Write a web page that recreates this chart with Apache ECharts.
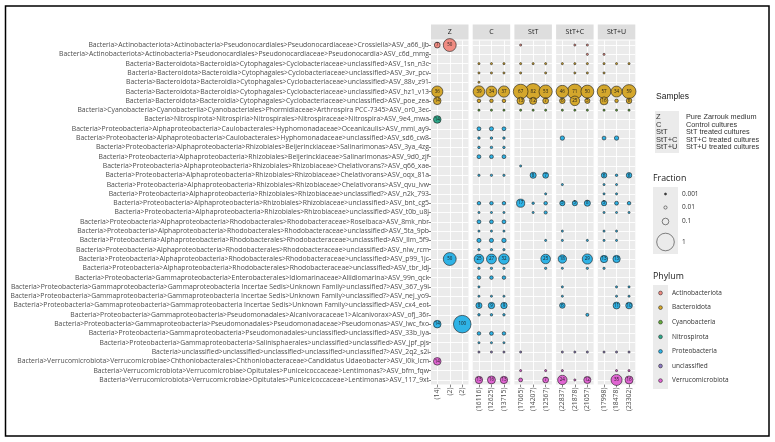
<!DOCTYPE html>
<html><head><meta charset="utf-8">
<script src="https://cdn.jsdelivr.net/npm/echarts@6/dist/echarts.min.js"></script>
<style>html,body{margin:0;padding:0;background:#fff}#c{width:775px;height:442px}</style>
</head><body><div id="c"></div>
<script>
// ---------- DATA ----------
const rowLabels = [
"Bacteria>Actinobacteriota>Actinobacteria>Pseudonocardiales>Pseudonocardiaceae>Crossiella>ASV_a66_ijb",
"Bacteria>Actinobacteriota>Actinobacteria>Pseudonocardiales>Pseudonocardiaceae>Pseudonocardia>ASV_c6d_mmg",
"Bacteria>Bacteroidota>Bacteroidia>Cytophagales>Cyclobacteriaceae>unclassified>ASV_1sn_n3c",
"Bacteria>Bacteroidota>Bacteroidia>Cytophagales>Cyclobacteriaceae>unclassified>ASV_3vr_pcv",
"Bacteria>Bacteroidota>Bacteroidia>Cytophagales>Cyclobacteriaceae>unclassified>ASV_88v_z91",
"Bacteria>Bacteroidota>Bacteroidia>Cytophagales>Cyclobacteriaceae>unclassified>ASV_hz1_v13",
"Bacteria>Bacteroidota>Bacteroidia>Cytophagales>Cyclobacteriaceae>unclassified>ASV_poe_zea",
"Bacteria>Cyanobacteria>Cyanobacteriia>Cyanobacteriales>Phormidiaceae>Arthrospira PCC-7345>ASV_or0_3ec",
"Bacteria>Nitrospirota>Nitrospiria>Nitrospirales>Nitrospiraceae>Nitrospira>ASV_9e4_mwa",
"Bacteria>Proteobacteria>Alphaproteobacteria>Caulobacterales>Hyphomonadaceae>Oceanicaulis>ASV_mmi_ay9",
"Bacteria>Proteobacteria>Alphaproteobacteria>Caulobacterales>Hyphomonadaceae>unclassified>ASV_sd6_cw8",
"Bacteria>Proteobacteria>Alphaproteobacteria>Rhizobiales>Beijerinckiaceae>Salinarimonas>ASV_3ya_4zg",
"Bacteria>Proteobacteria>Alphaproteobacteria>Rhizobiales>Beijerinckiaceae>Salinarimonas>ASV_9d0_zjf",
"Bacteria>Proteobacteria>Alphaproteobacteria>Rhizobiales>Rhizobiaceae>Chelativorans?>ASV_q66_xae",
"Bacteria>Proteobacteria>Alphaproteobacteria>Rhizobiales>Rhizobiaceae>Chelativorans>ASV_oqx_81a",
"Bacteria>Proteobacteria>Alphaproteobacteria>Rhizobiales>Rhizobiaceae>Chelativorans>ASV_qvu_ivw",
"Bacteria>Proteobacteria>Alphaproteobacteria>Rhizobiales>Rhizobiaceae>unclassified?>ASV_n2k_793",
"Bacteria>Proteobacteria>Alphaproteobacteria>Rhizobiales>Rhizobiaceae>unclassified>ASV_bnt_cg5",
"Bacteria>Proteobacteria>Alphaproteobacteria>Rhizobiales>Rhizobiaceae>unclassified>ASV_t0b_u8j",
"Bacteria>Proteobacteria>Alphaproteobacteria>Rhodobacterales>Rhodobacteraceae>Roseibaca>ASV_8mk_nbr",
"Bacteria>Proteobacteria>Alphaproteobacteria>Rhodobacterales>Rhodobacteraceae>unclassified>ASV_5ta_9pb",
"Bacteria>Proteobacteria>Alphaproteobacteria>Rhodobacterales>Rhodobacteraceae>unclassified>ASV_llm_5f9",
"Bacteria>Proteobacteria>Alphaproteobacteria>Rhodobacterales>Rhodobacteraceae>unclassified>ASV_nlw_rcm",
"Bacteria>Proteobacteria>Alphaproteobacteria>Rhodobacterales>Rhodobacteraceae>unclassified>ASV_p99_1jc",
"Bacteria>Proteobacteria>Alphaproteobacteria>Rhodobacterales>Rhodobacteraceae>unclassified>ASV_tbr_ldj",
"Bacteria>Proteobacteria>Gammaproteobacteria>Enterobacterales>Idiomarinaceae>Aliidiomarina>ASV_99n_qck",
"Bacteria>Proteobacteria>Gammaproteobacteria>Gammaproteobacteria Incertae Sedis>Unknown Family>unclassified?>ASV_367_y9l",
"Bacteria>Proteobacteria>Gammaproteobacteria>Gammaproteobacteria Incertae Sedis>Unknown Family>unclassified?>ASV_nej_yo9",
"Bacteria>Proteobacteria>Gammaproteobacteria>Gammaproteobacteria Incertae Sedis>Unknown Family>unclassified>ASV_cx4_eot",
"Bacteria>Proteobacteria>Gammaproteobacteria>Pseudomonadales>Alcanivoracaceae1>Alcanivorax>ASV_ofj_36r",
"Bacteria>Proteobacteria>Gammaproteobacteria>Pseudomonadales>Pseudomonadaceae>Pseudomonas>ASV_lwc_fxo",
"Bacteria>Proteobacteria>Gammaproteobacteria>Pseudomonadales>unclassified>unclassified>ASV_33b_iya",
"Bacteria>Proteobacteria>Gammaproteobacteria>Salinisphaerales>unclassified>unclassified>ASV_jpf_pjs",
"Bacteria>unclassified>unclassified>unclassified>unclassified>unclassified?>ASV_2q2_s2i",
"Bacteria>Verrucomicrobiota>Verrucomicrobiae>Chthoniobacterales>Chthoniobacteraceae>Candidatus Udaeobacter>ASV_l0k_lcm",
"Bacteria>Verrucomicrobiota>Verrucomicrobiae>Opitutales>Puniceicoccaceae>Lentimonas?>ASV_bfm_fqw",
"Bacteria>Verrucomicrobiota>Verrucomicrobiae>Opitutales>Puniceicoccaceae>Lentimonas>ASV_117_9xt"
];
const phylumNames = ["Actinobacteriota","Bacteroidota","Cyanobacteria","Nitrospirota","Proteobacteria","unclassified","Verrucomicrobiota"];
const phylumColors = ["#F08C82","#D4A72C","#67AE3E","#2EA98A","#2FB3E6","#8E7CC3","#E065D2"];
// phylum index of each row
const rowPhylum = [0,0,1,1,1,1,1,2,3,4,4,4,4,4,4,4,4,4,4,4,4,4,4,4,4,4,4,4,4,4,4,4,4,5,6,6,6];

const panelNames = ["Z","C","StT","StT+C","StT+U"];
const panelDescriptions = ["Pure Zarrouk medium","Control cultures","StT treated cultures","StT+C treated cultures","StT+U treated cultures"];
const sampleLabels = [
  ["(14)","(2)","(2)"],
  ["(16116)","(12625)","(13715)"],
  ["(17065)","(14207)","(12567)"],
  ["(22837)","(21878)","(21057)"],
  ["(17998)","(18478)","(23302)"]
];
const fractionBreaks = [0.001, 0.01, 0.1, 1];
const fractionLabels = ["0.001","0.01","0.1","1"];

// percent abundance per sample, one value per row (0 = absent)
const Z1  = [7,0,0,0,0,36,14,0,14,0, 0,0,0,0,0,0,0,0,0,0, 0,0,0,0,0,0,0,0,0,0, 14,0,0,0,14,0,0];
const Z2  = [50,0,0,0,0,0,0,0,0,0, 0,0,0,0,0,0,0,0,0,0, 0,0,0,50,0,0,0,0,0,0, 0,0,0,0,0,0,0];
const Z3  = [0,0,0,0,0,0,0,0,0,0, 0,0,0,0,0,0,0,0,0,0, 0,0,0,0,0,0,0,0,0,0, 100,0,0,0,0,0,0];
const C1  = [0,0,.1,.1,.1,39,1.5,.1,0,2, .3,.3,2,0,.2,0,0,1.5,.1,2, .1,2.5,.2,25,.2,1.5,.1,.1,8,.3, 0,1.5,.1,.1,0,0,13];
const C2  = [0,0,.1,.1,0,34,1.5,.1,0,2.5, .3,.3,2,0,.2,0,0,1.5,.1,2, .1,2.5,.2,27,.2,1.5,0,.1,9,.3, 0,2,.1,.1,0,0,16];
const C3  = [0,0,.1,.1,0,37,1.5,.1,0,2, .3,.3,2,0,.2,0,0,1.5,.1,2, .1,3,.2,32,.2,1.5,0,.1,9,.3, 0,1.5,.1,.1,0,0,13];
const T1  = [.1,0,.1,.1,0,67,13,.1,0,0, 0,0,0,.1,0,0,0,17,0,0, 0,0,0,0,0,0,0,0,0,0, 0,0,0,.1,0,.1,2];
const T2  = [0,0,.1,0,0,82,12,.1,0,0, 0,0,0,0,8,0,0,.3,.1,0, 0,0,0,0,0,0,0,0,0,0, 0,0,0,0,0,0,0];
const T3  = [0,0,.1,.1,0,53,7,.1,0,0, 0,0,0,0,7,0,.1,1.5,1,0, 0,.1,0,25,.2,0,0,0,0,0, 0,0,0,0,0,.1,7];
const TC1 = [0,0,.1,0,0,46,6,.1,0,0, 3,0,0,0,0,.1,0,5,0,0, .1,.1,0,18,.1,0,.1,.1,6,0, 0,0,0,.1,0,.1,24];
const TC2 = [.1,0,.1,.1,0,71,25,.1,0,0, 0,0,0,0,0,0,0,5,0,0, 0,0,0,0,0,0,0,0,0,0, 0,0,0,.1,0,0,.1];
const TC3 = [.1,.1,.1,.1,0,50,5,.1,0,0, 0,0,0,0,0,0,0,8,0,0, 0,.1,0,29,.2,0,0,0,0,.8, 0,0,0,.1,0,0,12];
const TU1 = [0,.1,.1,.1,0,57,16,.1,0,0, 2,0,0,0,6,.1,.1,5,.1,0, .1,.1,0,13,.2,0,0,0,0,0, 0,0,0,.1,0,0,0];
const TU2 = [0,0,.1,0,0,34,1.5,.1,0,0, 3,0,0,0,.3,.1,.1,2,.1,0, .1,.1,0,13,0,0,.1,.1,11,0, 0,0,0,.1,0,.1,35];
const TU3 = [0,0,.1,0,0,59,6,.1,0,0, 0,0,0,0,6,0,0,1.5,.1,0, 0,0,0,0,0,0,.1,.1,10,0, 0,0,0,.1,0,.1,16];
const panelSamples = [[Z1,Z2,Z3],[C1,C2,C3],[T1,T2,T3],[TC1,TC2,TC3],[TU1,TU2,TU3]];

// ---------- LAYOUT ----------
const FONT = "'Open Sans', 'DejaVu Sans', sans-serif";
const ARIAL = "'Liberation Sans', Arial, sans-serif";
const P_LEFT = 431, P_W = 37.5, P_GAP = 4.2, P_TOP = 40.4, P_H = 344.2;
const STRIP_H = 15;
function sizeOf(pct){ return 1.6 + 16 * Math.sqrt(pct / 100); }

const chart = echarts.init(document.getElementById('c'), null, {renderer:'canvas'});
const grids = [], xAxes = [], yAxes = [], series = [], graphics = [];

panelNames.forEach((name, p) => {
  const left = P_LEFT + p * (P_W + P_GAP);
  grids.push({left: left, top: P_TOP, width: P_W, height: P_H, show: true,
    backgroundColor: '#EBEBEB', borderWidth: 0, containLabel: false});
  xAxes.push({type:'category', gridIndex:p, data: sampleLabels[p], boundaryGap:true,
    axisLine:{show:false},
    axisTick:{show:true, alignWithLabel:true, length:2.5, lineStyle:{color:'#333', width:0.6}},
    axisLabel:{rotate:90, fontSize:6.8, fontFamily:FONT, color:'#4D4D4D', margin:3, interval:0},
    splitLine:{show:true, alignWithLabel:true, lineStyle:{color:'#FFFFFF', width:0.9}}});
  yAxes.push({type:'category', gridIndex:p, data: rowLabels, inverse:true, boundaryGap:true,
    axisLine:{show:false},
    axisTick:{show:p===0, alignWithLabel:true, length:2.5, interval:0, lineStyle:{color:'#333', width:0.6}},
    axisLabel:{show:p===0, fontSize:6.8, fontFamily:FONT, color:'#4D4D4D', margin:2, interval:0},
    splitLine:{show:true, alignWithLabel:true, interval:0, lineStyle:{color:'#FFFFFF', width:0.9}}});
  const data = [];
  panelSamples[p].forEach((vals, s) => {
    vals.forEach((v, r) => {
      if (v > 0) data.push({value:[s, r, v], itemStyle:{color: phylumColors[rowPhylum[r]]}});
    });
  });
  data.sort((a,b)=>b.value[2]-a.value[2]);
  series.push({type:'scatter', xAxisIndex:p, yAxisIndex:p, data: data,
    symbolSize: (val) => sizeOf(val[2]),
    itemStyle:{borderColor:'#1A1A1A', borderWidth:0.6, opacity:1},
    label:{show:true, position:'inside', fontSize:4.5, fontFamily:FONT, color:'#1A1A1A',
      formatter: (pr) => pr.value[2] >= 5 ? String(Math.round(pr.value[2])) : ''},
    emphasis:{disabled:true}, animation:false});
  // strip header
  graphics.push({type:'rect', shape:{x:left, y:P_TOP - STRIP_H - 1, width:P_W, height:STRIP_H},
    style:{fill:'#DEDEDE'}});
  graphics.push({type:'text', x:left + P_W/2, y:P_TOP - 1 - STRIP_H/2,
    style:{text:name, fontSize:7, fontFamily:FONT, fill:'#1A1A1A', align:'center', verticalAlign:'middle'}});
});

// outer frame
graphics.push({type:'rect', shape:{x:5.5, y:6, width:763.5, height:430}, style:{fill:null, stroke:'#000', lineWidth:1.5}});

// Samples legend
const LX = 655;
graphics.push({type:'text', x:LX+1, y:97, style:{text:'Samples', fontSize:8.5, fontFamily:ARIAL, fill:'#1A1A1A', verticalAlign:'middle'}});
graphics.push({type:'rect', shape:{x:LX, y:111, width:24, height:42}, style:{fill:'#EBEBEB'}});
panelNames.forEach((n,i)=>{
  const y = 117 + i*7.6;
  graphics.push({type:'text', x:LX+1, y:y, style:{text:n, fontSize:7.5, fontFamily:ARIAL, fill:'#333', verticalAlign:'middle'}});
  graphics.push({type:'text', x:686, y:y, style:{text:panelDescriptions[i], fontSize:7.3, fontFamily:"'Liberation Sans Narrow', 'Liberation Sans', Arial, sans-serif", fill:'#333', verticalAlign:'middle'}});
});

// Fraction legend
graphics.push({type:'text', x:653, y:178, style:{text:'Fraction', fontSize:8.8, fontFamily:FONT, fill:'#1A1A1A', verticalAlign:'middle'}});
graphics.push({type:'rect', shape:{x:653, y:187, width:25, height:67}, style:{fill:'#EBEBEB'}});
const fracY = [194, 207.5, 221.5, 242];
fractionBreaks.forEach((f,i)=>{
  graphics.push({type:'circle', shape:{cx:665.5, cy:fracY[i], r:sizeOf(f*100)/2},
    style:{fill:i===0?'#333':'none', stroke:'#333', lineWidth:0.6}});
  graphics.push({type:'text', x:682, y:fracY[i], style:{text:fractionLabels[i], fontSize:6.5, fontFamily:FONT, fill:'#333', verticalAlign:'middle'}});
});

// Phylum legend
graphics.push({type:'text', x:653, y:276, style:{text:'Phylum', fontSize:8.8, fontFamily:FONT, fill:'#1A1A1A', verticalAlign:'middle'}});
graphics.push({type:'rect', shape:{x:653, y:285, width:15, height:104}, style:{fill:'#EBEBEB'}});
phylumNames.forEach((n,i)=>{
  const y = 293 + i*14.6;
  graphics.push({type:'circle', shape:{cx:660.5, cy:y, r:1.9}, style:{fill:phylumColors[i], stroke:'#1A1A1A', lineWidth:0.5}});
  graphics.push({type:'text', x:672, y:y, style:{text:n, fontSize:6.5, fontFamily:FONT, fill:'#333', verticalAlign:'middle'}});
});

chart.setOption({
  animation:false,
  backgroundColor:'#FFFFFF',
  grid: grids, xAxis: xAxes, yAxis: yAxes, series: series,
  graphic: graphics
});
</script></body></html>
